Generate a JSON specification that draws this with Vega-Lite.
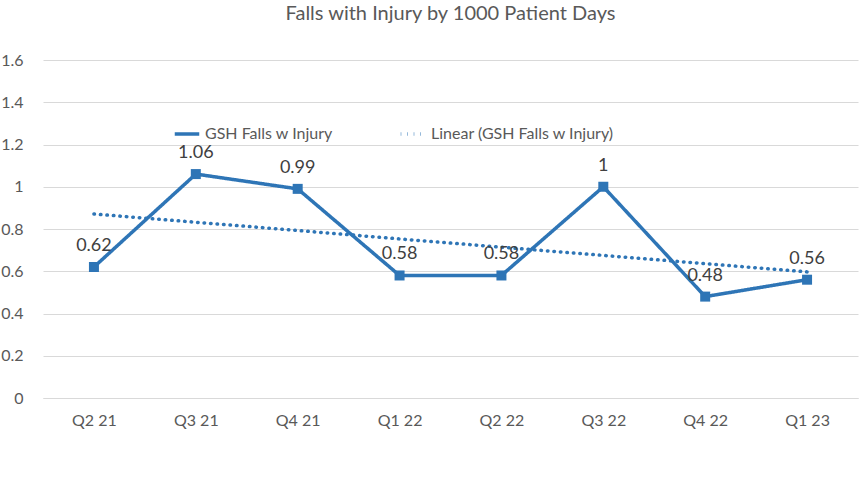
{
  "$schema": "https://vega.github.io/schema/vega-lite/v6.json",
  "width": 815, "height": 338,
  "autosize": {"type": "none"},
  "padding": {"left": 43, "right": 10, "top": 60, "bottom": 106},
  "config": {"font": "Lato", "view": {"stroke": null}},
  "title": {"text": "Falls with Injury by 1000 Patient Days", "fontSize": 20, "fontWeight": "normal", "color": "#595959", "offset": 28},
  "data": {"values": [
    {"q": "Q2 21", "series": "GSH Falls w Injury", "v": 0.62},
    {"q": "Q3 21", "series": "GSH Falls w Injury", "v": 1.06},
    {"q": "Q4 21", "series": "GSH Falls w Injury", "v": 0.99},
    {"q": "Q1 22", "series": "GSH Falls w Injury", "v": 0.58},
    {"q": "Q2 22", "series": "GSH Falls w Injury", "v": 0.58},
    {"q": "Q3 22", "series": "GSH Falls w Injury", "v": 1},
    {"q": "Q4 22", "series": "GSH Falls w Injury", "v": 0.48},
    {"q": "Q1 23", "series": "GSH Falls w Injury", "v": 0.56},
    {"q": "Q2 21", "series": "Linear (GSH Falls w Injury)", "v": 0.871},
    {"q": "Q3 21", "series": "Linear (GSH Falls w Injury)", "v": 0.832},
    {"q": "Q4 21", "series": "Linear (GSH Falls w Injury)", "v": 0.793},
    {"q": "Q1 22", "series": "Linear (GSH Falls w Injury)", "v": 0.753},
    {"q": "Q2 22", "series": "Linear (GSH Falls w Injury)", "v": 0.714},
    {"q": "Q3 22", "series": "Linear (GSH Falls w Injury)", "v": 0.675},
    {"q": "Q4 22", "series": "Linear (GSH Falls w Injury)", "v": 0.636},
    {"q": "Q1 23", "series": "Linear (GSH Falls w Injury)", "v": 0.597}
  ]},
  "encoding": {
    "x": {"field": "q", "type": "ordinal", "sort": null, "title": null,
      "scale": {"paddingOuter": 0.5},
      "axis": {"labelAngle": 0, "labelFontSize": 16, "labelColor": "#595959", "domainColor": "#d9d9d9", "ticks": false, "labelPadding": 14}},
    "y": {"field": "v", "type": "quantitative", "title": null,
      "scale": {"domain": [0, 1.6]},
      "axis": {"values": [0,0.2,0.4,0.6,0.8,1,1.2,1.4,1.6], "labelExpr": "datum.value == 0 ? '0' : datum.value == 1 ? '1' : format(datum.value, '.1f')", "labelFontSize": 16, "labelColor": "#595959", "gridColor": "#d9d9d9", "domain": false, "ticks": false, "labelPadding": 20}}
  },
  "layer": [
    {"mark": {"type": "line", "strokeWidth": 3.5, "strokeCap": "round"},
     "encoding": {
       "color": {"field": "series", "type": "nominal", "scale": {"range": ["#2e75b6", "#2e75b6"]},
         "legend": {"orient": "none", "legendX": 130, "legendY": 60, "direction": "horizontal", "title": null, "labelFontSize": 16, "labelColor": "#595959", "labelLimit": 0, "symbolType": "stroke", "symbolStrokeWidth": 3.5, "symbolSize": 600, "columnPadding": 60}},
       "strokeDash": {"field": "series", "type": "nominal", "scale": {"range": [[1,0],[0.5,6]]}}
     }},
    {"transform": [{"filter": "datum.series == 'GSH Falls w Injury'"}],
     "mark": {"type": "square", "size": 100, "color": "#2e75b6", "opacity": 1, "filled": true}},
    {"transform": [{"filter": "datum.series == 'GSH Falls w Injury'"}],
     "mark": {"type": "text", "dy": -21, "fontSize": 18, "color": "#404040"},
     "encoding": {"text": {"field": "v", "type": "quantitative"}}}
  ]
}
